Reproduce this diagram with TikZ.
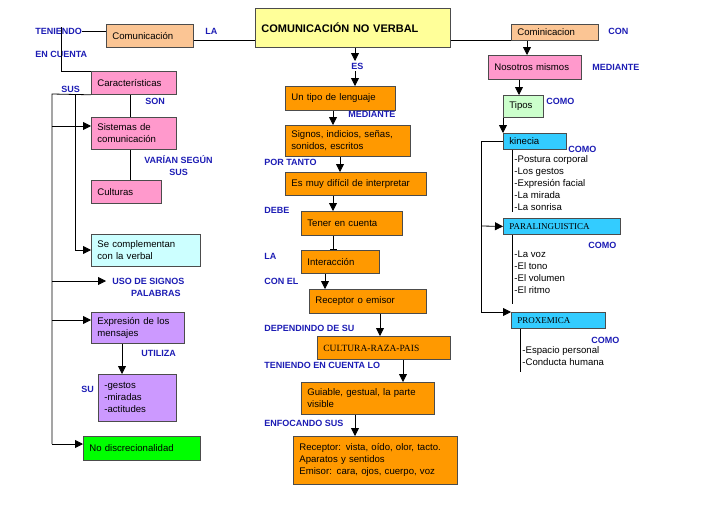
\documentclass[tikz,border=0pt]{standalone}
\usepackage{fontspec}
\setmainfont{Liberation Sans}
\newfontfamily\timesfont{Liberation Serif}
\usetikzlibrary{positioning}
\usetikzlibrary{arrows.meta}
\definecolor{peach}{HTML}{FBC594}
\definecolor{lemon}{HTML}{FFFF99}
\definecolor{rosa}{HTML}{FF99CC}
\definecolor{menta}{HTML}{CCFFCC}
\definecolor{celeste}{HTML}{33CCFF}
\definecolor{hielo}{HTML}{CCFFFF}
\definecolor{lila}{HTML}{CC99FF}
\definecolor{verde}{HTML}{00FF00}
\definecolor{naranja}{HTML}{FF9900}
\definecolor{tinta}{HTML}{1C1CB4}
\tikzset{
  box/.style={draw=black!70,anchor=north west,inner xsep=6pt,inner ysep=2pt,align=left,
    font=\fontsize{9.6}{12}\selectfont},
  lbl/.style={anchor=west,inner sep=0pt,text=tinta,align=center,
    font=\fontsize{9}{12}\selectfont\bfseries},
  lista/.style={anchor=north west,inner sep=0pt,align=left,
    font=\fontsize{9.6}{12}\selectfont},
  arr/.style={-{Triangle[length=8pt,width=8pt]}},
}
\begin{document}
\begin{tikzpicture}[x=1pt,y=-1pt,line width=0.8pt]
\useasboundingbox (0,0) rectangle (728,514);
% top row
\node[box,fill=lemon,text width=183,minimum height=39,font=\fontsize{11}{13}\selectfont\bfseries] (main) at (255,8) {COMUNICACIÓN NO VERBAL};
\node[box,fill=peach,text width=75,minimum height=23] (com) at (106,24) {Comunicación};
\node[box,fill=peach,text width=75,minimum height=16] (comi) at (511,24) {Cominicacion};
\node[lbl] (teniendo) at (35,31) {TENIENDO};
\node[lbl] (encuenta) at (35,54) {EN CUENTA};
\node[lbl] (la) at (205,31) {LA};
\node[lbl] (con) at (608,31) {CON};
% left column
\node[box,fill=rosa,text width=73,minimum height=23] (carac) at (91,71) {Características};
\node[box,fill=rosa,text width=73,minimum height=32] (sist) at (91,117) {Sistemas de\\comunicación};
\node[box,fill=rosa,text width=58,minimum height=23] (cult) at (91,180) {Culturas};
\node[box,fill=hielo,text width=97,minimum height=32] (compl) at (91,234) {Se complementan\\con la verbal};
\node[box,fill=lila,text width=81,minimum height=31] (expr) at (91,312) {Expresión de los\\mensajes};
\node[box,fill=lila,text width=66,minimum height=47] (gest) at (98,374) {-gestos\\-miradas\\-actitudes};
\node[box,fill=verde,text width=105,minimum height=24] (nodis) at (83,436) {No discrecionalidad};
\node[lbl] (sus) at (61,89) {SUS};
\node[lbl] (son) at (145,101) {SON};
\node[lbl] (varian) at (144,166) {VARÍAN SEGÚN\\SUS};
\node[lbl] (uso) at (112,287) {USO DE SIGNOS\\\ \ \ \ \ \ PALABRAS};
\node[lbl] (utiliza) at (141,353) {UTILIZA};
\node[lbl] (su) at (81,389) {SU};
\coordinate (sl) at (52,94);
\coordinate (si) at (75,94);
\draw (teniendo.east) -- (com.west |- teniendo.east);
\draw (61,0 |- teniendo.north) -- (61,71) -- (carac.north west);
\draw (carac.south west) -- (sl) -- (52,444);
\draw (si) -- (75,250);
\draw[arr] (52,126) -- (sist.west |- 52,126);
\draw[arr] (75,250) -- (compl.west |- 75,250);
\draw[arr] (52,281) -- (106,281);
\draw[arr] (52,320) -- (expr.west |- 52,320);
\draw[arr] (52,444) -- (nodis.west |- 52,444);
\draw (130,0 |- carac.south) -- (130,0 |- sist.north);
\draw (130,0 |- sist.south) -- (130,0 |- cult.north);
\draw[arr] (122,0 |- expr.south) -- (122,0 |- gest.north);
\draw (com.east |- 0,40) -- (main.west |- 0,40);
\draw (main.east |- 0,40) -- (comi.west |- 0,40);
% middle column
\node[box,fill=naranja,text width=98,minimum height=24] (tipo) at (285,86) {Un tipo de lenguaje};
\node[box,fill=naranja,text width=113,minimum height=31] (sig) at (285,125) {Signos, indicios, señas,\\sonidos, escritos};
\node[box,fill=naranja,text width=129,minimum height=23] (dificil) at (285,172) {Es muy difícil de interpretar};
\node[box,fill=naranja,text width=89,minimum height=24] (tener) at (301,211) {Tener en cuenta};
\node[box,fill=naranja,text width=66,minimum height=23] (inter) at (301,250) {Interacción};
\node[box,fill=naranja,text width=105,minimum height=24] (recep) at (309,289) {Receptor o emisor};
\node[box,fill=naranja,text width=121,minimum height=23,font=\timesfont\fontsize{9.5}{12}\selectfont] (cultura) at (317,336) {CULTURA-RAZA-PAIS};
\node[box,fill=naranja,text width=121,minimum height=32] (guia) at (301,382) {Guiable, gestual, la parte\\visible};
\node[box,fill=naranja,text width=152,minimum height=48] (vista) at (293,436) {Receptor: vista, oído, olor, tacto.\\Aparatos y sentidos\\Emisor: cara, ojos, cuerpo, voz};
\node[lbl] (es) at (351,66) {ES};
\node[lbl] (mediante) at (348,114) {MEDIANTE};
\node[lbl] (portanto) at (264,162) {POR TANTO};
\node[lbl] (debe) at (264,210) {DEBE};
\node[lbl] (lai) at (264,256) {LA};
\node[lbl] (conel) at (264,281) {CON EL};
\node[lbl] (depend) at (264,328) {DEPENDINDO DE SU};
\node[lbl] (tenlo) at (264,365) {TENIENDO EN CUENTA LO};
\node[lbl] (enfoc) at (264,423) {ENFOCANDO SUS};
\draw[arr] (355,0 |- main.south) -- (355,61);
\draw[arr] (355,71) -- (355,0 |- tipo.north);
\draw[arr] (333,0 |- tipo.south) -- (333,0 |- sig.north);
\draw[arr] (340,0 |- sig.south) -- (340,0 |- dificil.north);
\draw[arr] (333,0 |- dificil.south) -- (333,0 |- tener.north);
\draw[-{Bar[width=7pt]}] (333,0 |- tener.south) -- (333,0 |- inter.north);
\draw[arr] (325,0 |- inter.south) -- (325,0 |- recep.north);
\draw[arr] (380,0 |- recep.south) -- (380,0 |- cultura.north);
\draw[arr] (403,0 |- cultura.south) -- (403,0 |- guia.north);
\draw[arr] (355,0 |- guia.south) -- (355,0 |- vista.north);
% right column
\node[box,fill=rosa,text width=81,minimum height=24] (noso) at (488,55) {Nosotros mismos};
\node[box,fill=menta,text width=28,minimum height=22] (tipos) at (503,95) {Tipos};
\node[box,fill=celeste,text width=51,minimum height=16] (kine) at (503,133) {kinecia};
\node[box,fill=celeste,text width=105,minimum height=16,font=\timesfont\fontsize{9}{10}\selectfont] (para) at (503,218) {PARALINGUISTICA};
\node[box,fill=celeste,text width=82,minimum height=16,font=\timesfont\fontsize{9}{10}\selectfont] (prox) at (511,312) {PROXEMICA};
\node[lbl] (mediante2) at (592,67) {MEDIANTE};
\node[lbl] (como1) at (546,101) {COMO};
\node[lbl] (como2) at (568,149) {COMO};
\node[lbl] (como3) at (588,245) {COMO};
\node[lbl] (como4) at (591,340) {COMO};
\node[lista] (lkine) at (514,155) {-Postura corporal\\-Los gestos\\-Expresión facial\\-La mirada\\-La sonrisa};
\node[lista] (lpara) at (514,250) {-La voz\\-El tono\\-El volumen\\-El ritmo};
\node[lista] (lprox) at (522,346) {-Espacio personal\\-Conducta humana};
\draw[arr] (527,0 |- comi.south) -- (527,0 |- noso.north);
\draw[arr] (519,0 |- noso.south) -- (519,0 |- tipos.north);
\draw[arr] (tipos.south west) -- (kine.north west);
\draw[arr] (kine.west) -- (481,0 |- kine.west) -- (481,312) -- (prox.north west);
\draw[arr] (481,226) -- (para.west);
\draw (512,0 |- kine.south) -- (512,212);
\draw (512,0 |- para.south) -- (512,304);
\draw (520,0 |- prox.south) -- (520,372);
\end{tikzpicture}
\end{document}
